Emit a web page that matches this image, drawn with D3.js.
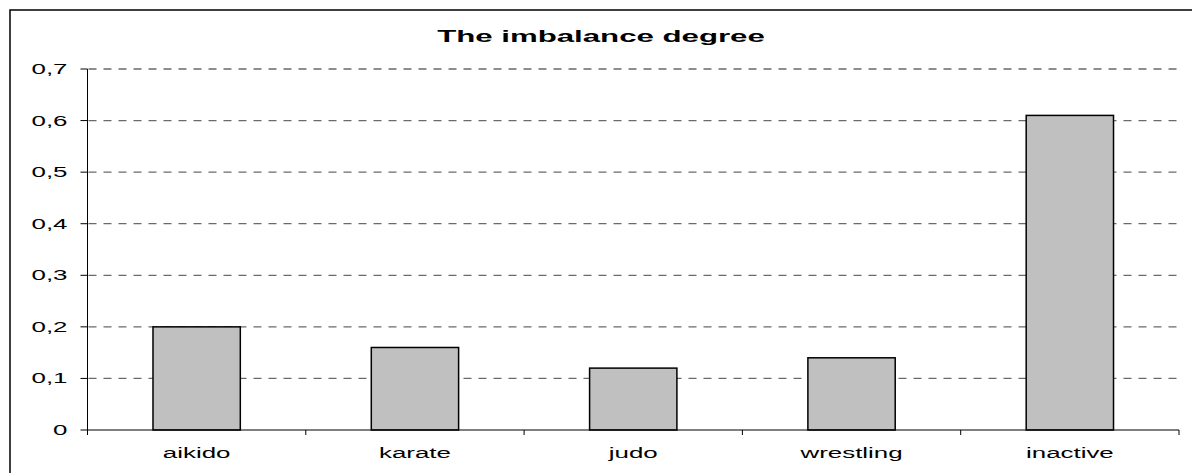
<!DOCTYPE html>
<html>
<head>
<meta charset="utf-8">
<script src="https://cdn.jsdelivr.net/npm/d3@7"></script>
<style>
  body { margin: 0; background: #fff; }
  text { font-family: Arial, "Liberation Sans", sans-serif; fill: #000; }
</style>
</head>
<body>
<div id="chart"></div>
<script>
// data
var categories = ["aikido", "karate", "judo", "wrestling", "inactive"];
var values = [0.2, 0.16, 0.12, 0.14, 0.61];
var yTicks = [0, 0.1, 0.2, 0.3, 0.4, 0.5, 0.6, 0.7];
var title = "The imbalance degree";

var W = 1192, H = 473;
var margin = {top: 69, right: 13, bottom: 43, left: 87.5};
var width = W - margin.left - margin.right,
    height = H - margin.top - margin.bottom;
var SX = 1.85; // text in the source is stretched sideways

var svg = d3.select("#chart").append("svg")
    .attr("width", W)
    .attr("height", H);

// outer frame (runs off the right and bottom edge)
svg.append("rect")
    .attr("x", 10).attr("y", 10)
    .attr("width", W).attr("height", H)
    .attr("fill", "none")
    .attr("stroke", "#000")
    .attr("stroke-width", 1.5);

var g = svg.append("g")
    .attr("transform", "translate(" + margin.left + "," + margin.top + ")");

var x = d3.scaleBand().domain(categories).range([0, width]).paddingInner(0.6).paddingOuter(0.3);
var xb = d3.scaleBand().domain(categories).range([0, width]); // full band for the ticks
var y = d3.scaleLinear().domain([0, 0.7]).range([height, 0]);

var fmt = function(d) { return d3.format(".1~f")(d).replace(".", ","); };

// gridlines
g.append("g").selectAll("line")
    .data(yTicks.filter(function(d) { return d > 0; }))
  .enter().append("line")
    .attr("x1", 1).attr("x2", width)
    .attr("y1", function(d) { return y(d); })
    .attr("y2", function(d) { return y(d); })
    .attr("stroke", "#6a6a6a")
    .attr("stroke-width", 1.3)
    .attr("stroke-dasharray", "8,7");

// y axis
g.append("line")
    .attr("x1", 0).attr("x2", 0)
    .attr("y1", 0).attr("y2", height + 5)
    .attr("stroke", "#000");
g.append("g").selectAll("line")
    .data(yTicks)
  .enter().append("line")
    .attr("x1", -7).attr("x2", 0)
    .attr("y1", function(d) { return y(d); })
    .attr("y2", function(d) { return y(d); })
    .attr("stroke", "#000");
g.append("g").selectAll("text")
    .data(yTicks)
  .enter().append("text")
    .attr("transform", function(d) { return "translate(-20," + (y(d) + 5) + ") scale(" + SX + ",1)"; })
    .attr("text-anchor", "end")
    .attr("font-size", 14)
    .text(fmt);

// bars
g.append("g").selectAll("rect")
    .data(values)
  .enter().append("rect")
    .attr("x", function(d, i) { return x(categories[i]); })
    .attr("y", function(d) { return y(d); })
    .attr("width", x.bandwidth())
    .attr("height", function(d) { return height - y(d); })
    .attr("fill", "#c0c0c0")
    .attr("stroke", "#000")
    .attr("stroke-width", 1.5);

// x axis
g.append("line")
    .attr("x1", 0).attr("x2", width)
    .attr("y1", height).attr("y2", height)
    .attr("stroke", "#000");
g.append("g").selectAll("line")
    .data(categories.slice(1).concat(["end"]))
  .enter().append("line")
    .attr("x1", function(d) { return d === "end" ? width : xb(d); })
    .attr("x2", function(d) { return d === "end" ? width : xb(d); })
    .attr("y1", height).attr("y2", height + 5)
    .attr("stroke", "#000");
g.append("g").selectAll("text")
    .data(categories)
  .enter().append("text")
    .attr("transform", function(d) { return "translate(" + (xb(d) + xb.bandwidth() / 2) + "," + (height + 28) + ") scale(" + SX + ",1)"; })
    .attr("text-anchor", "middle")
    .attr("font-size", 14)
    .text(function(d) { return d; });

// title
svg.append("text")
    .attr("transform", "translate(601,42) scale(1.95,1)")
    .attr("text-anchor", "middle")
    .attr("font-size", 16)
    .attr("font-weight", "bold")
    .text(title);
</script>
</body>
</html>
